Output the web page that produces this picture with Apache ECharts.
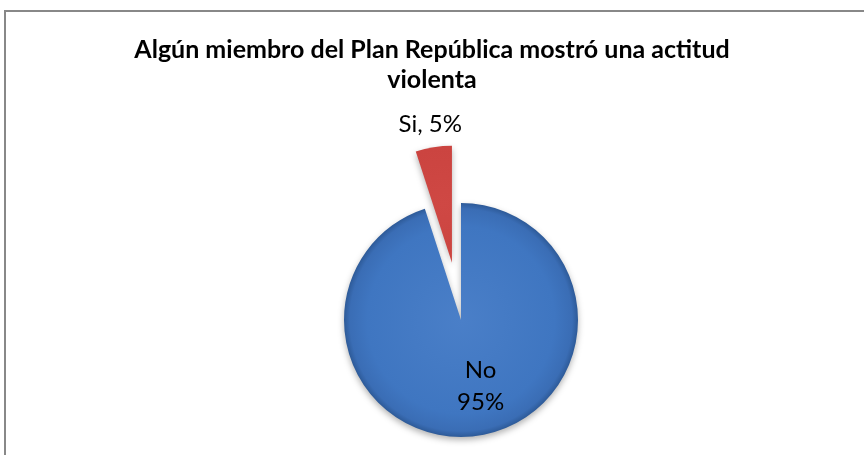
<!DOCTYPE html>
<html>
<head>
<meta charset="utf-8">
<script src="https://cdn.jsdelivr.net/npm/echarts@6/dist/echarts.min.js"></script>
<style>
html,body{margin:0;padding:0;background:#fff;}
#chart{width:864px;height:455px;}
</style>
</head>
<body>
<div id="chart"></div>
<script>
var titleText = 'Algún miembro del Plan República mostró una actitud\nviolenta';
var categories = ['No', 'Si'];
var values = [95, 5];
var labelTexts = ['No\n95%', 'Si, 5%'];

var chart = echarts.init(document.getElementById('chart'), null, {renderer: 'canvas'});

function radial(cx, cy, r, stops) {
  var g = new echarts.graphic.RadialGradient(cx, cy, r, stops, true);
  return g;
}
var blueGrad = radial(461, 320, 117, [
  {offset: 0, color: '#4A7FC8'},
  {offset: 0.8, color: '#3F76C1'},
  {offset: 0.95, color: '#3A6DB5'},
  {offset: 1, color: '#2D5A98'}
]);
var redGrad = radial(452, 262, 117, [
  {offset: 0, color: '#CF4844'},
  {offset: 0.85, color: '#C8413D'},
  {offset: 1, color: '#A32F2C'}
]);
var colors = [blueGrad, redGrad];

var labelShift = [[10, 6], [-12, -78]];

var option = {
  animation: false,
  backgroundColor: '#ffffff',
  title: {
    text: titleText,
    left: 'center',
    top: 30,
    textStyle: {
      fontFamily: 'Lato',
      fontWeight: 'bold',
      fontSize: 25,
      lineHeight: 30,
      color: '#000'
    }
  },
  graphic: [{
    type: 'rect',
    shape: {x: 5, y: 11, width: 900, height: 500},
    style: {fill: 'none', stroke: '#888888', lineWidth: 2},
    silent: true
  }],
  series: [{
    type: 'pie',
    center: [461, 320],
    radius: [0, 117],
    startAngle: 90,
    clockwise: true,
    selectedMode: 'single',
    selectedOffset: 58,
    avoidLabelOverlap: false,
    label: {
      show: true,
      position: 'inside',
      fontFamily: 'Lato',
      fontSize: 24,
      lineHeight: 32,
      color: '#000',
      formatter: function (p) { return labelTexts[p.dataIndex]; }
    },
    labelLine: {show: false},
    labelLayout: function (p) {
      return {dx: labelShift[p.dataIndex][0], dy: labelShift[p.dataIndex][1]};
    },
    emphasis: {disabled: true},
    itemStyle: {
      shadowBlur: 6,
      shadowOffsetY: 3,
      shadowColor: 'rgba(0,0,0,0.3)'
    },
    data: categories.map(function (c, i) {
      return {
        name: c,
        value: values[i],
        selected: i === 1,
        itemStyle: {color: colors[i]}
      };
    })
  }]
};
chart.setOption(option);
</script>
</body>
</html>
